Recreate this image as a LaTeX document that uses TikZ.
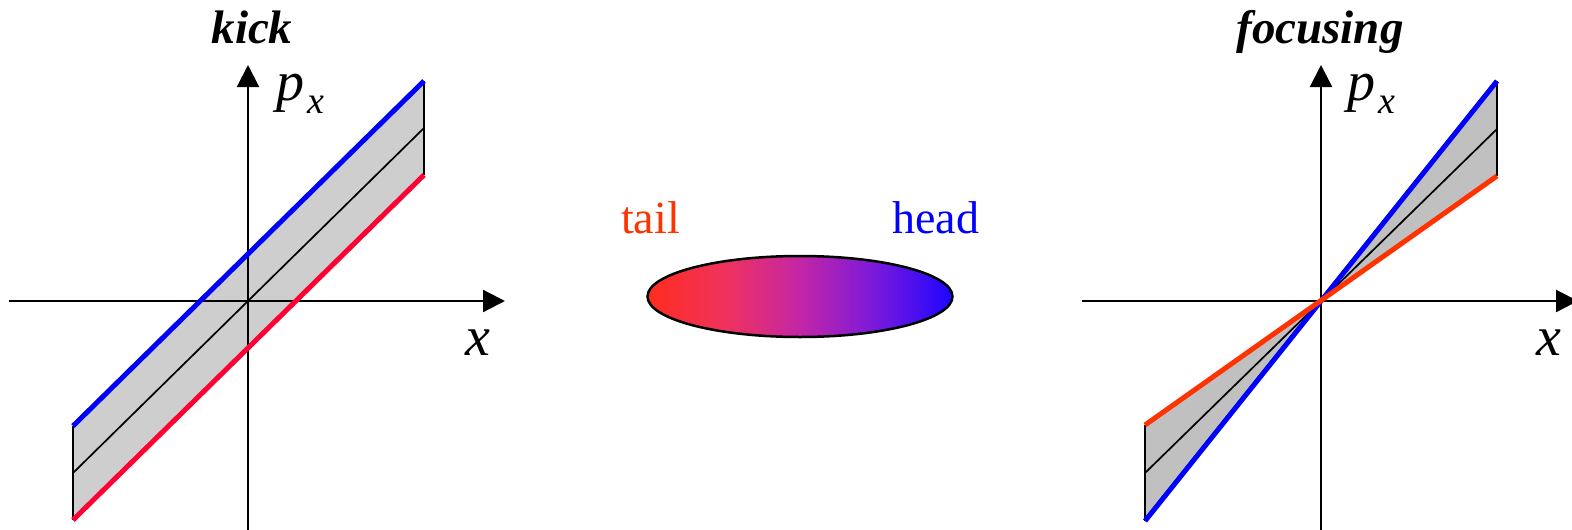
\documentclass[tikz,border=0pt]{standalone}
\usepackage{fontspec}
\setmainfont{Liberation Serif}
\usetikzlibrary{arrows.meta}
\definecolor{tailred}{RGB}{255,51,0}
\definecolor{kickred}{RGB}{255,0,51}
\definecolor{headblue}{RGB}{0,0,255}
\definecolor{fillA}{RGB}{206,206,206}
\definecolor{fillB}{RGB}{192,192,192}
\definecolor{shL}{RGB}{255,45,30}
\definecolor{shA}{RGB}{240,50,92}
\definecolor{shM}{RGB}{195,38,165}
\definecolor{shB}{RGB}{120,25,220}
\definecolor{shR}{RGB}{30,5,255}
\pgfdeclarehorizontalshading{bunch}{100bp}{color(0bp)=(shL); color(25bp)=(shL); color(37.5bp)=(shA); color(50bp)=(shM); color(62.5bp)=(shB); color(75bp)=(shR); color(100bp)=(shR)}
\begin{document}
\begin{tikzpicture}[x=1pt,y=-1pt,
  axis/.style={line width=2.2pt,-{Triangle[length=22pt,width=22pt]}},
  edge/.style={line width=1.7pt},
  beam/.style={line width=5pt},
  title/.style={anchor=base,inner sep=0pt,font=\fontsize{47}{50}\selectfont\bfseries\itshape},
  lab/.style={anchor=base west,inner sep=0pt,font=\fontsize{56}{60}\selectfont\itshape},
  word/.style={anchor=base west,inner sep=0pt,font=\fontsize{46}{50}\selectfont}]
\useasboundingbox (0,0) rectangle (1572,530);
% ---------- left panel: kick ----------
\coordinate (LA1) at (73,426);  \coordinate (LB1) at (424,81);
\coordinate (LA2) at (73,520);  \coordinate (LB2) at (424,175);
\coordinate (LM1) at (73,473);  \coordinate (LM2) at (424,128);
\fill[fillA] (LA1) -- (LB1) -- (LB2) -- (LA2) -- cycle;
\draw[edge] (LA1) -- (LA2);
\draw[edge] (LB1) -- (LB2);
\draw[edge] (LM1) -- (LM2);
\coordinate (LX0) at (9,301);   \coordinate (LX1) at (505,301);
\coordinate (LY0) at (248,535); \coordinate (LY1) at (248,65);
\draw[axis] (LX0) -- (LX1);
\draw[axis] (LY0) -- (LY1);
\draw[beam,headblue] (LA1) -- (LB1);
\draw[beam,kickred] (LA2) -- (LB2);
\node[title] (kick) at (252,43) {kick};
\node[lab] (px1) at (276,100) {p\kern3pt\raisebox{-13pt}{\fontsize{38}{40}\selectfont x}};
\node[lab] (x1) at (465,355) {x};
% ---------- middle: bunch ----------
\draw[line width=2.5pt,shading=bunch] (800,296.5) ellipse [x radius=152.5,y radius=40.5];
\node[word,text=tailred] (tail) at (621,233) {tail};
\node[word,text=headblue] (head) at (892,233) {head};
% ---------- right panel: focusing ----------
\coordinate (RO) at (1321,301);
\coordinate (RBa) at (1145,521); \coordinate (RBb) at (1497,81);
\coordinate (RRa) at (1145,425); \coordinate (RRb) at (1497,176);
\coordinate (RM1) at (1145,473); \coordinate (RM2) at (1497,129);
\fill[fillB] (RO) -- (RBb) -- (RRb) -- cycle;
\fill[fillB] (RO) -- (RRa) -- (RBa) -- cycle;
\draw[edge] (RRa) -- (RBa);
\draw[edge] (RBb) -- (RRb);
\draw[edge] (RM1) -- (RM2);
\coordinate (RX0) at (1082,301); \coordinate (RX1) at (1578,301);
\coordinate (RY0) at (1321,535); \coordinate (RY1) at (1321,65);
\draw[axis] (RX0) -- (RX1);
\draw[axis] (RY0) -- (RY1);
\draw[beam,headblue] (RBa) -- (RBb);
\draw[beam,tailred] (RRa) -- (RRb);
\node[title] (focusing) at (1320,43) {focusing};
\node[lab] (px2) at (1347,100) {p\kern3pt\raisebox{-13pt}{\fontsize{38}{40}\selectfont x}};
\node[lab] (x2) at (1536,355) {x};
\end{tikzpicture}
\end{document}
